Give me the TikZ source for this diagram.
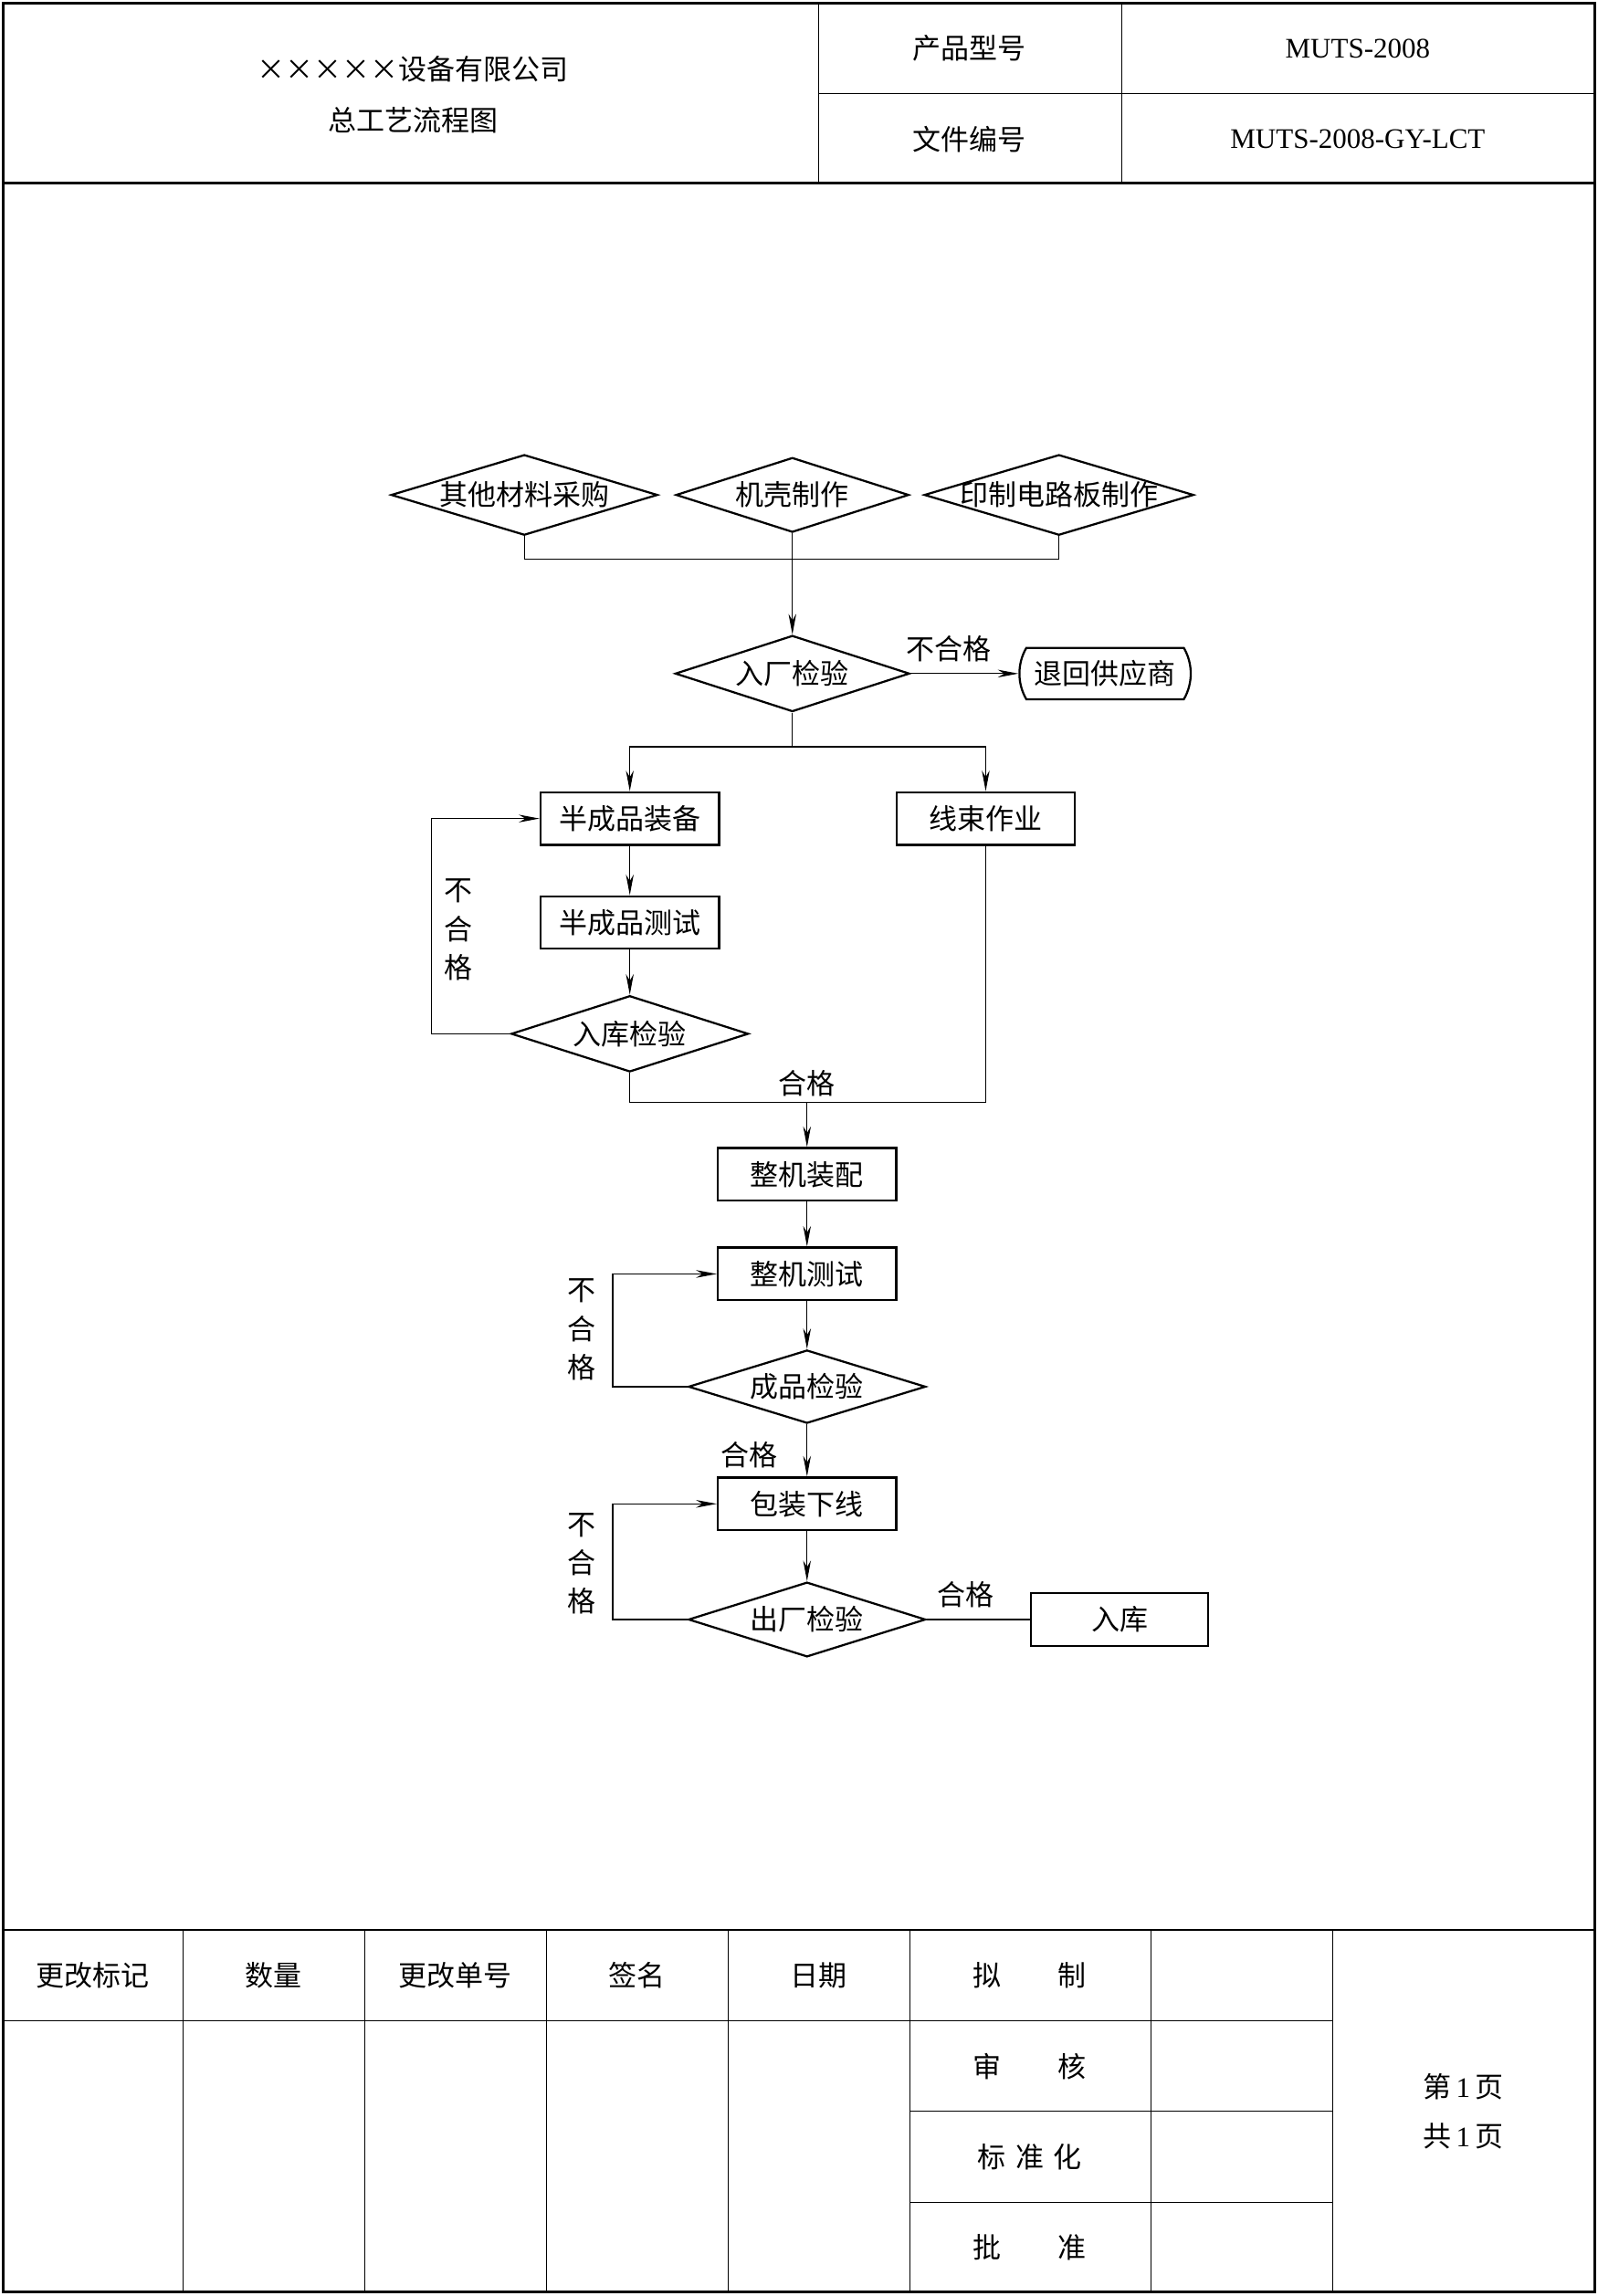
\documentclass[tikz,border=0pt]{standalone}
\usepackage{fontspec}
\setmainfont{Liberation Serif}
\newfontfamily\cjk{Noto Sans CJK SC}
\usetikzlibrary{shapes.geometric,shapes.misc,arrows.meta}

\begin{document}
\begin{tikzpicture}[x=0.02cm, y=-0.02cm,
  every node/.style={font=\cjk\fontsize{11}{15}\selectfont},
  proc/.style={draw, line width=0.8pt, minimum width=2.44cm, minimum height=0.72cm, inner sep=0pt},
  decide/.style 2 args={draw, line width=0.8pt, diamond, minimum width=#1, minimum height=#2, inner sep=0pt},
  retbox/.style={draw, line width=0.8pt, rounded rectangle, rounded rectangle arc length=60,
    minimum width=2.34cm, minimum height=0.7cm, inner sep=0pt},
  flow/.style={line width=0.4pt, -{Stealth[length=8pt, width=3pt, inset=2.5pt]}},
  link/.style={line width=0.4pt},
  rule/.style={line width=0.4pt},
  frame/.style={line width=1pt}]

  \useasboundingbox (0,0) rectangle (1091,1568);

  % sheet frame and title block
  \draw[frame] (2,2) rectangle (1089,1565);
  \draw[frame] (2,125) -- (1089,125);
  \draw[rule] (559,2) -- (559,125);
  \draw[rule] (766,2) -- (766,125);
  \draw[rule] (559,64) -- (1089,64);
  \node (company) at (282,47) {×××××设备有限公司};
  \node (title) at (282,82) {总工艺流程图};
  \node (modellab) at (662,33) {产品型号};
  \node (modelval) at (927,33) {\rmfamily MUTS-2008};
  \node (doclab) at (662,95) {文件编号};
  \node (docval) at (927,95) {\rmfamily MUTS-2008-GY-LCT};

  % incoming parts
  \node[decide={3.64cm}{1.1cm}, label=center:其他材料采购] (buy) at (358,338) {};
  \node[decide={3.18cm}{1.02cm}, label=center:机壳制作] (case) at (541,338) {};
  \node[decide={3.68cm}{1.1cm}, label=center:印制电路板制作] (pcb) at (723,338) {};
  \coordinate (join) at (541,382);
  \draw[link] (buy.south) |- (join) -| (pcb.south);
  \draw[link] (case.south) -- (join);

  % incoming inspection
  \node[decide={3.2cm}{1.04cm}, label=center:入厂检验] (iqc) at (541,460) {};
  \node[retbox] (ret) at (754.5,460) {退回供应商};
  \draw[flow] (join) -- (iqc.north);
  \draw[flow] (iqc.east) -- node[above=1pt, pos=0.35] (nok0) {不合格} (ret.west);

  % semi-finished branch and harness branch
  \node[proc] (semi) at (430,559) {半成品装备};
  \node[proc] (wire) at (673,559) {线束作业};
  \node[proc] (semitest) at (430,630) {半成品测试};
  \node[decide={3.24cm}{1.04cm}, label=center:入库检验] (store) at (430,706) {};
  \coordinate (split) at (541,510);
  \draw[link] (iqc.south) -- (split);
  \draw[flow] (split) -| (semi.north);
  \draw[flow] (split) -| (wire.north);
  \draw[flow] (semi) -- (semitest);
  \draw[flow] (semitest) -- (store.north);
  \draw[flow] (store.west) -- ++(-54,0) |- (semi.west);
  \node[align=center] (nok1) at (313,635) {不\\合\\格};

  % final assembly
  \node[proc] (asm) at (551,802) {整机装配};
  \node[proc] (test) at (551,870) {整机测试};
  \node[decide={3.24cm}{1.0cm}, label=center:成品检验] (fqc) at (551,947) {};
  \node[proc] (pack) at (551,1027) {包装下线};
  \node[decide={3.24cm}{1.02cm}, label=center:出厂检验] (oqc) at (551,1106) {};
  \node[proc, minimum width=2.42cm] (stock) at (764.5,1106) {入库};
  \coordinate (merge) at (551,753);
  \draw[link] (store.south) |- (merge) -| (wire.south);
  \node[above=-1pt] (ok1) at (merge) {合格};
  \draw[flow] (merge) -- (asm);
  \draw[flow] (asm) -- (test);
  \draw[flow] (test) -- (fqc.north);
  \draw[flow] (fqc.west) -- ++(-51,0) |- (test.west);
  \node[align=center] (nok2) at (397,908) {不\\合\\格};
  \draw[flow] (fqc.south) -- node[left=8pt, pos=0.58] (ok2) {合格} (pack.north);
  \draw[flow] (pack) -- (oqc.north);
  \draw[flow] (oqc.west) -- ++(-51,0) |- (pack.west);
  \node[align=center] (nok3) at (397,1068) {不\\合\\格};
  \draw[link] (oqc.east) -- node[above=1pt, pos=0.38] (ok3) {合格} (stock.west);

  % revision block
  \draw[frame] (2,1318) -- (910,1318);
  \draw[rule] (910,1318) -- (1089,1318);
  \draw[rule] (2,1380) -- (910,1380);
  \draw[rule] (621,1442) -- (910,1442);
  \draw[rule] (621,1504) -- (910,1504);
  \foreach \x in {125,249,373,497,621,786,910}
    \draw[rule] (\x,1318) -- (\x,1565);
  \foreach \x/\t in {63/更改标记,187/数量,311/更改单号,435/签名,559/日期}
    \node (hd\x) at (\x,1349) {\t};
  \node (draft) at (703,1349) {拟\hspace{2em}制};
  \node (check) at (703,1411) {审\hspace{2em}核};
  \node (std) at (703,1473) {标\hspace{0.35em}准\hspace{0.35em}化};
  \node (appr) at (703,1535) {批\hspace{2em}准};
  \node (page) at (999,1425) {第\,{\rmfamily 1}\,页};
  \node (pages) at (999,1459) {共\,{\rmfamily 1}\,页};
\end{tikzpicture}
\end{document}
